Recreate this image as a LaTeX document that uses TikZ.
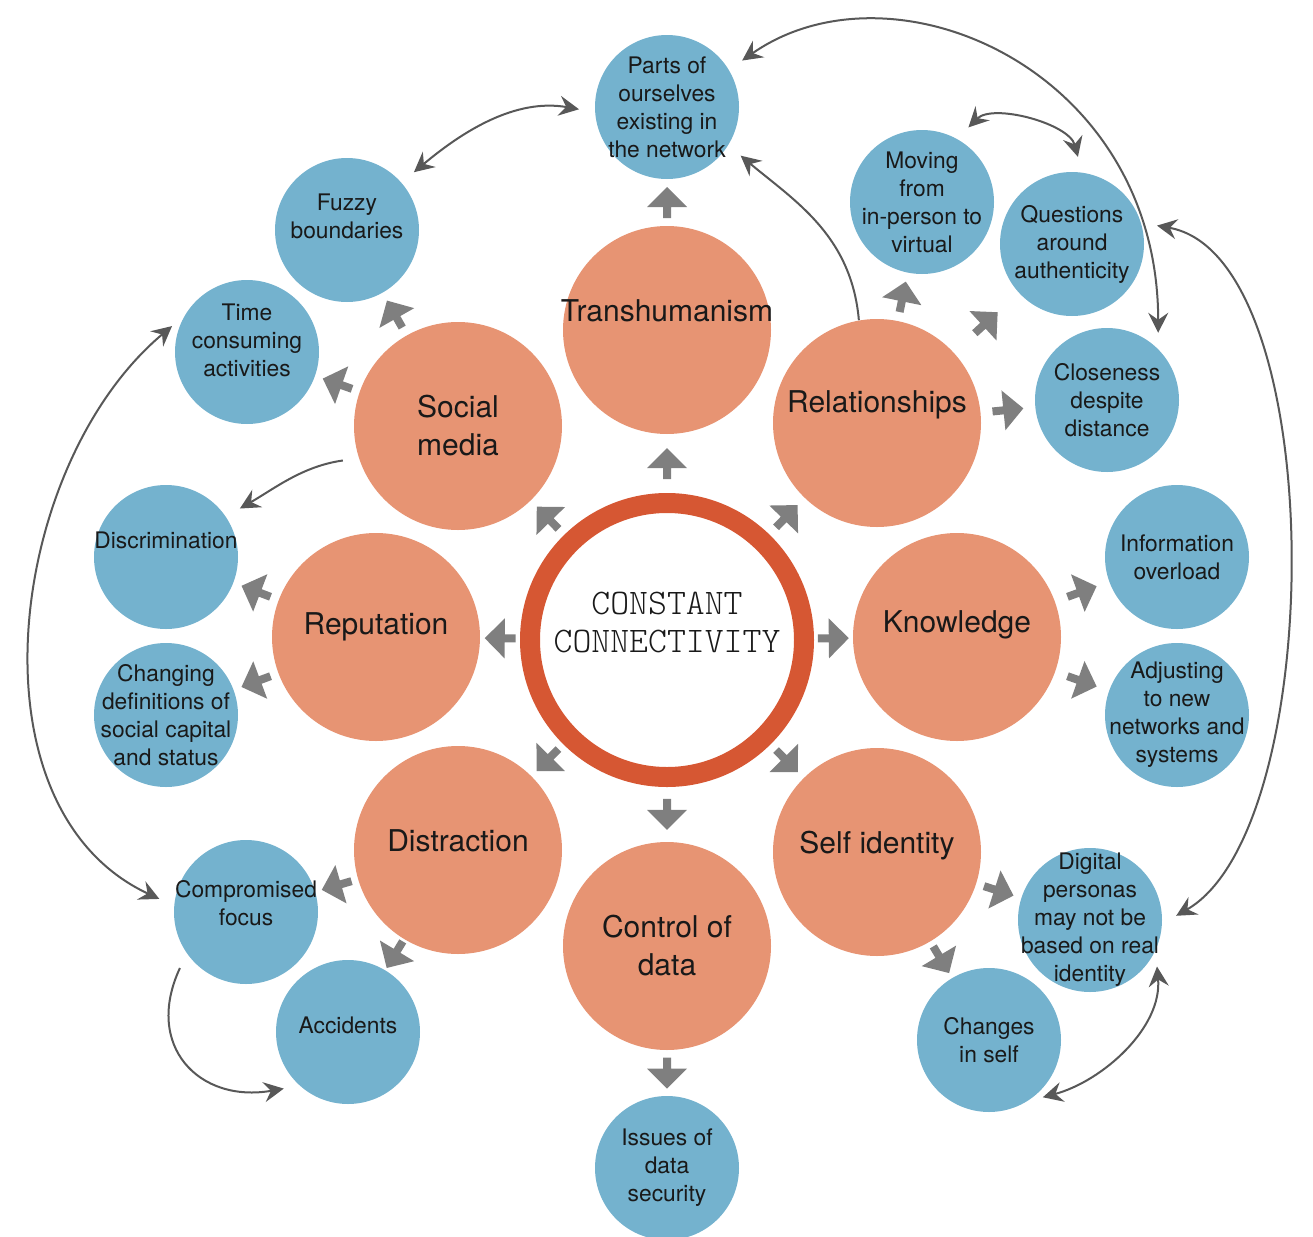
\documentclass[tikz,border=0pt]{standalone}
\usepackage{fontspec}
\setmainfont{TeX Gyre Heros}
\usetikzlibrary{arrows.meta, decorations.markings}

\definecolor{hubfill}{RGB}{231,148,115}
\definecolor{satfill}{RGB}{116,178,206}
\definecolor{ringcol}{RGB}{214,87,51}
\definecolor{pushgray}{RGB}{127,127,127}
\definecolor{linkgray}{RGB}{88,88,88}

% raise a text inside its circle without moving the circle
\newcommand{\lift}[2]{\raisebox{#1}[\height][\depth]{#2}}

\begin{document}
\begin{tikzpicture}[x=0.5pt, y=0.5pt,
    hub/.style={circle, fill=hubfill, minimum size=104pt, inner sep=-20pt, align=center,
        text=black!90, font=\fontsize{15}{19}\selectfont},
    sat/.style={circle, fill=satfill, minimum size=72pt, inner sep=-20pt, align=center,
        text=black!90, font=\fontsize{11.4}{14}\selectfont},
    ring/.style={circle, draw=ringcol, line width=10pt, minimum size=137pt, inner sep=-20pt,
        align=center, text=black!90, font=\ttfamily\fontseries{l}\fontsize{18}{19}\selectfont},
    link/.style={draw=linkgray, line width=1pt, shorten <=8pt, shorten >=8pt},
    push/.style={postaction={decorate}, decoration={markings, mark=at position 0.5 with
        {\fill[pushgray] (-7.75pt,-2pt) -- (-2.25pt,-2pt) -- (-2.25pt,-10pt) -- (7.75pt,0pt)
            -- (-2.25pt,10pt) -- (-2.25pt,2pt) -- (-7.75pt,2pt) -- cycle;}}},
    >={Stealth[length=10pt, width=10pt, inset=3.5pt]}
]
    \useasboundingbox (0,0) rectangle (1313,-1237);

    % centre
    \node[ring] (ring) at (667,-640) {\lift{7pt}{\begin{tabular}{@{}c@{}}CONSTANT\\CONNECTIVITY\end{tabular}}};

    % themes
    \node[hub] (trans) at (667,-330) {\lift{9.5pt}{Transhumanism}};
    \node[hub] (relat) at (877,-423) {\lift{9pt}{Relationships}};
    \node[hub] (know) at (957,-637) {\lift{6pt}{Knowledge}};
    \node[hub] (self) at (877,-852) {\lift{3pt}{Self identity}};
    \node[hub] (control) at (667,-946) {Control of\\data};
    \node[hub] (distr) at (458,-850) {\lift{4.5pt}{Distraction}};
    \node[hub] (reput) at (376,-637) {\lift{5pt}{Reputation}};
    \node[hub] (social) at (458,-426) {Social\\media};

    % effects
    \node[sat] (parts) at (667,-107) {Parts of\\ourselves\\existing in\\the network};
    \node[sat] (moving) at (922,-202) {Moving\\from\\in-person to\\virtual};
    \node[sat] (quest) at (1072,-244) {Questions\\around\\authenticity};
    \node[sat] (close) at (1107,-400) {Closeness\\despite\\distance};
    \node[sat] (info) at (1177,-557) {Information\\overload};
    \node[sat] (adjust) at (1177,-715) {Adjusting\\to new\\networks and\\systems};
    \node[sat] (digital) at (1090,-920) {Digital\\personas\\may not be\\based on real\\identity};
    \node[sat] (changes) at (989,-1040) {Changes\\in self};
    \node[sat] (issues) at (667,-1168) {Issues of\\data\\security};
    \node[sat] (accid) at (348,-1032) {\lift{3.5pt}{Accidents}};
    \node[sat] (compr) at (246,-912) {\lift{3pt}{\begin{tabular}{@{}c@{}}Compromised\\focus\end{tabular}}};
    \node[sat] (changing) at (166,-715) {Changing\\definitions of\\social capital\\and status};
    \node[sat] (discr) at (166,-557) {\lift{8.5pt}{Discrimination}};
    \node[sat] (time) at (247,-352) {\lift{4.5pt}{\begin{tabular}{@{}c@{}}Time\\consuming\\activities\end{tabular}}};
    \node[sat] (fuzzy) at (347,-230) {\lift{5.5pt}{\begin{tabular}{@{}c@{}}Fuzzy\\boundaries\end{tabular}}};

    % block arrows
    \foreach \a/\b in {ring/trans, ring/relat, ring/know, ring/self, ring/control, ring/distr,
        ring/reput, ring/social, trans/parts, relat/moving, relat/quest, relat/close,
        know/info, know/adjust, self/digital, self/changes, control/issues, distr/compr,
        distr/accid, reput/discr, reput/changing, social/time, social/fuzzy}
        \path[push] (\a) -- (\b);

    % cross links
    \draw[link, <->] (parts.31) to[out=35, in=90, out looseness=1, in looseness=1.4] (close.45);
    \draw[link, <->] (quest.17) to[out=-10, in=30, looseness=.7] (digital.-3);
    \draw[link, <->] (moving.61) to[out=45, in=105] (quest.82);
    \draw[link, ->, shorten <=0pt] (relat.100) to[out=95, in=-40] (parts.-32);
    \draw[link, <->] (parts.184) to[out=170, in=40] (fuzzy.41);
    \draw[link, ->] (social.198) to[out=188, in=30] (discr.34);
    \draw[link, <->] (time.150) to[out=220, in=155] (compr.175);
    \draw[link, ->] (compr.215) to[out=245, in=190, looseness=1.5] (accid.228);
    \draw[link, <->] (digital.-25) to[out=-85, in=15] (changes.-58);
\end{tikzpicture}
\end{document}
